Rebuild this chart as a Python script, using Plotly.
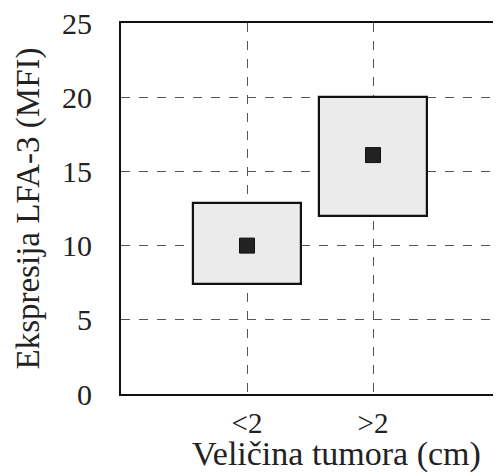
import plotly.graph_objects as go

categories = ["<2", ">2"]
box_low = [7.4, 12.0]
box_high = [12.9, 20.0]
means = [10.0, 16.1]
y_ticks = [0, 5, 10, 15, 20, 25]

FONT = "Liberation Serif"

fig = go.Figure()
fig.add_trace(go.Bar(
    x=categories,
    y=[h - l for h, l in zip(box_high, box_low)],
    base=box_low,
    width=0.85,
    marker=dict(color="#ebebeb", line=dict(color="#111111", width=2.2)),
    showlegend=False,
    hoverinfo="skip",
))
fig.add_trace(go.Scatter(
    x=categories,
    y=means,
    mode="markers",
    marker=dict(symbol="square", size=15, color="#222222",
                line=dict(color="#111111", width=1)),
    showlegend=False,
))

fig.update_layout(
    width=501, height=472,
    margin=dict(l=113, r=10, t=15, b=86, autoexpand=False),
    paper_bgcolor="white",
    plot_bgcolor="white",
    font=dict(family=FONT, color="#222222", size=30),
    bargap=0,
    xaxis=dict(
        type="category",
        range=[-1, 2],
        automargin=False,
        showgrid=True, gridcolor="#555555", gridwidth=1, griddash="dash",
        showline=True, linecolor="#111111", linewidth=2, mirror=True,
        ticks="", ticklabelstandoff=2, ticklabeloverflow="allow",
        tickfont=dict(size=29, family=FONT, color="#222222"),
        zeroline=False,
    ),
    yaxis=dict(
        range=[0, 25],
        automargin=False,
        tickvals=y_ticks,
        showgrid=True, gridcolor="#555555", gridwidth=1, griddash="dash",
        showline=True, linecolor="#111111", linewidth=2, mirror=True,
        ticks="", ticklabelstandoff=21, ticklabeloverflow="allow",
        tickfont=dict(size=30, family=FONT, color="#222222"),
        zeroline=False,
    ),
    annotations=[
        dict(text="Veličina tumora (cm)", xref="paper", yref="paper",
             x=0.571, y=-0.162, xanchor="center", yanchor="middle",
             showarrow=False, font=dict(size=34, family=FONT, color="#222222")),
        dict(text="Ekspresija LFA-3 (MFI)", xref="paper", yref="paper",
             x=-0.246, y=0.5, xanchor="center", yanchor="middle", textangle=-90,
             showarrow=False, font=dict(size=33, family=FONT, color="#222222")),
    ],
)

fig.write_html("out.html")
